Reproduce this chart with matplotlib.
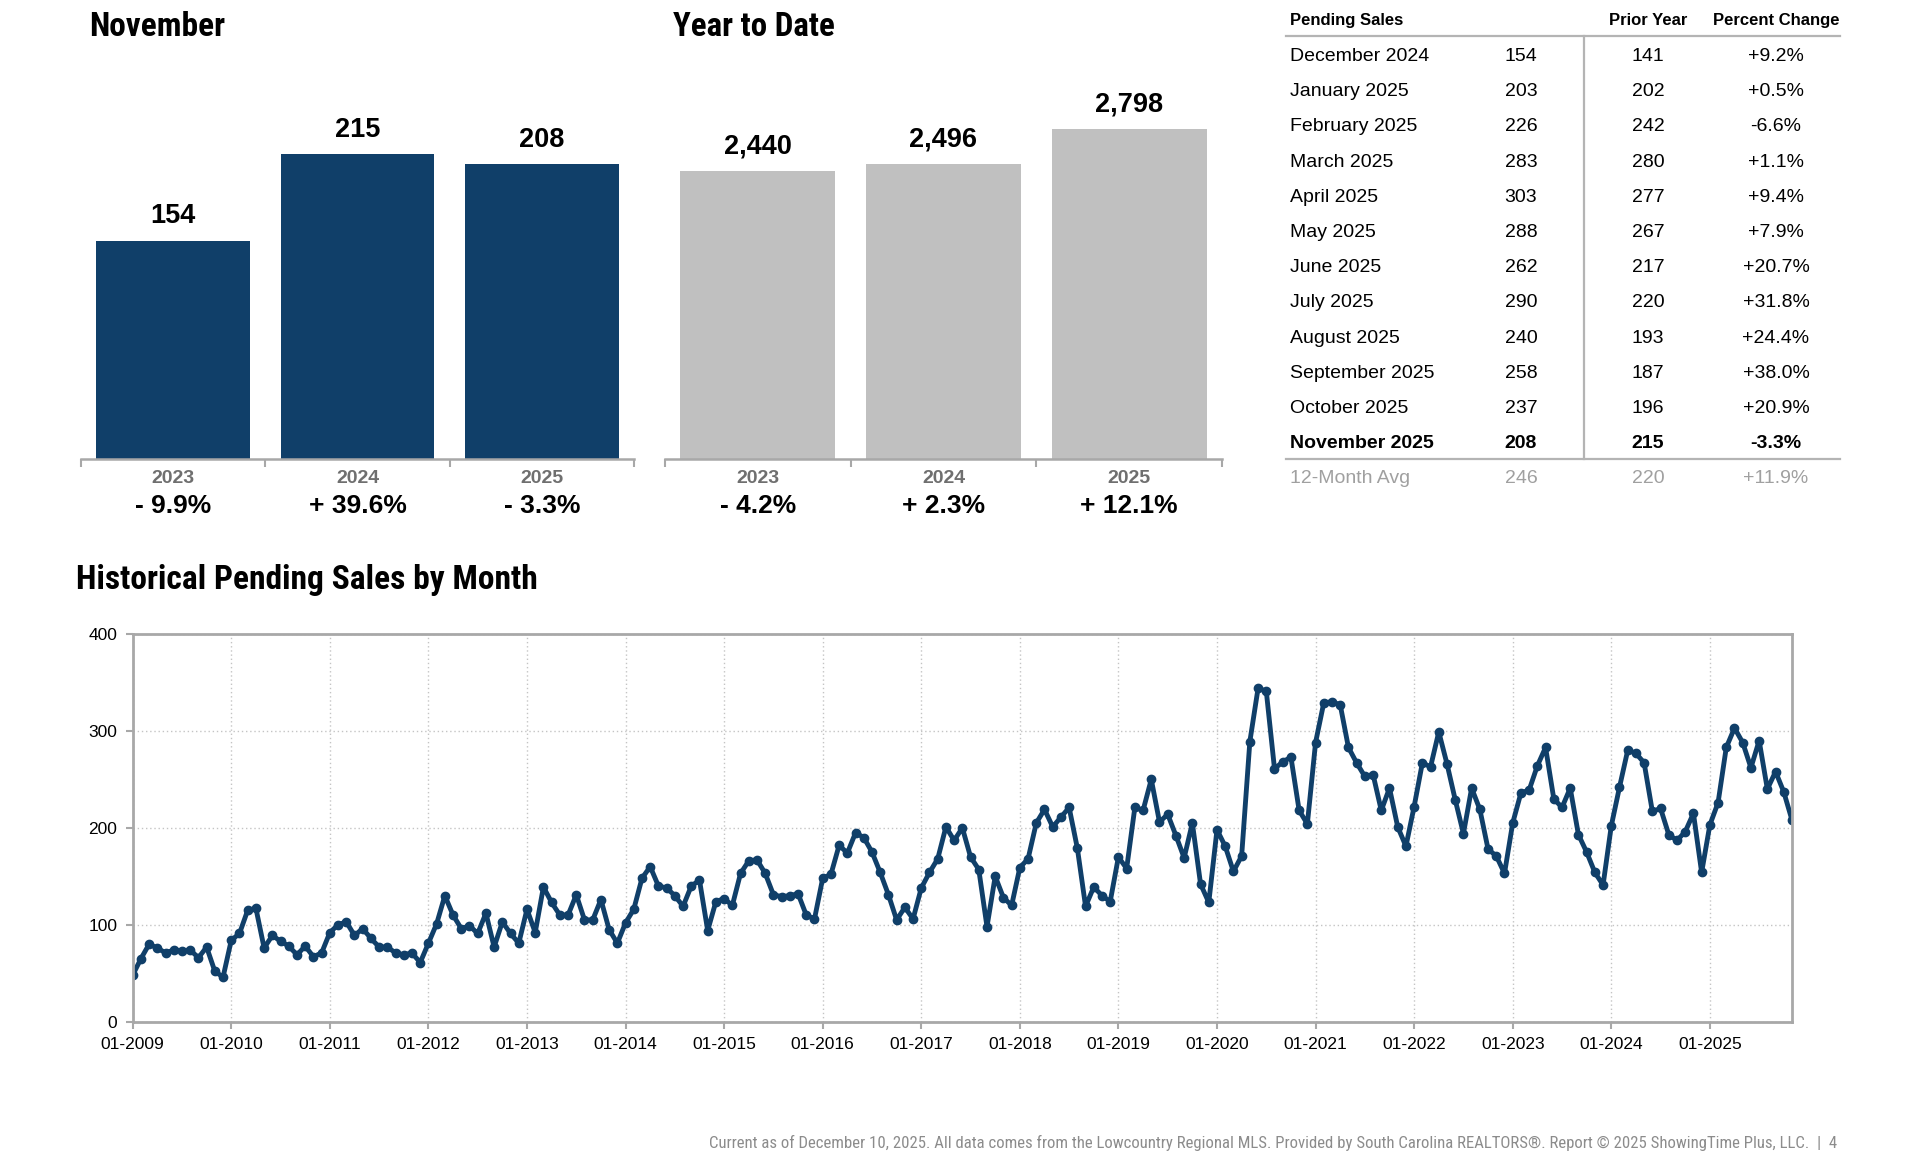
import matplotlib
matplotlib.use("Agg")
import matplotlib.pyplot as plt
import matplotlib.transforms as mtransforms
from matplotlib.lines import Line2D
from matplotlib import font_manager

plt.rcParams['font.family'] = ['Liberation Sans', 'DejaVu Sans']

# ---- data ----
bar_years = ["2023", "2024", "2025"]
nov_values = [154, 215, 208]
nov_change = ["- 9.9%", "+ 39.6%", "- 3.3%"]
ytd_values = [2440, 2496, 2798]
ytd_change = ["- 4.2%", "+ 2.3%", "+ 12.1%"]

table_months = ["December 2024", "January 2025", "February 2025", "March 2025",
                "April 2025", "May 2025", "June 2025", "July 2025", "August 2025",
                "September 2025", "October 2025", "November 2025"]
table_current = [154, 203, 226, 283, 303, 288, 262, 290, 240, 258, 237, 208]
table_prior = [141, 202, 242, 280, 277, 267, 217, 220, 193, 187, 196, 215]
table_pct = ["+9.2%", "+0.5%", "-6.6%", "+1.1%", "+9.4%", "+7.9%", "+20.7%",
             "+31.8%", "+24.4%", "+38.0%", "+20.9%", "-3.3%"]
avg_row = ["12-Month Avg", "246", "220", "+11.9%"]

hist_years = list(range(2009, 2026))
hist_values = [
    48, 65, 80, 76, 71, 74, 73, 74, 66, 77, 52, 46,            # 2009
    84, 91, 115, 117, 76, 89, 83, 78, 69, 78, 67, 71,          # 2010
    92, 100, 103, 89, 96, 86, 77, 77, 71, 69, 71, 61,          # 2011
    81, 101, 130, 110, 96, 99, 91, 112, 77, 103, 91, 81,       # 2012
    116, 92, 139, 123, 110, 110, 131, 105, 105, 126, 95, 81,   # 2013
    102, 116, 148, 160, 140, 138, 130, 119, 140, 146, 94, 124, # 2014
    127, 120, 153, 166, 167, 153, 131, 129, 130, 132, 110, 106,  # 2015
    148, 152, 182, 174, 195, 190, 175, 154, 131, 105, 118, 106,  # 2016
    138, 154, 168, 201, 187, 200, 170, 157, 98, 150, 128, 120,   # 2017
    159, 168, 205, 219, 201, 211, 221, 179, 119, 139, 130, 124,  # 2018
    170, 158, 221, 218, 250, 206, 214, 192, 169, 205, 142, 123,  # 2019
    198, 181, 155, 171, 289, 344, 341, 261, 268, 273, 218, 204,  # 2020
    288, 329, 330, 327, 283, 267, 253, 255, 218, 241, 201, 181,  # 2021
    222, 267, 263, 299, 266, 229, 194, 241, 219, 178, 171, 153,  # 2022
    205, 236, 239, 264, 283, 230, 221, 241, 193, 175, 154, 141,  # 2023
    202, 242, 280, 277, 267, 217, 220, 193, 187, 196, 215, 154,  # 2024
    203, 226, 283, 303, 288, 262, 290, 240, 258, 237, 208,       # 2025
]

NAVY = "#103f69"
GRAY_BAR = "#c0c0c0"
AXIS_GRAY = "#a8a8a8"
W, H = 1920, 1158


def fx(x):
    return x / W


def fy(y):
    return 1 - y / H


def narrow_font(bold):
    # look for an installed condensed / narrow face, else plain Liberation Sans
    prefs = ["Roboto Condensed", "Liberation Sans Narrow", "Open Sans Condensed",
             "DejaVu Sans Condensed", "Noto Sans", "DejaVu Sans", "Roboto", "Open Sans"]
    found = {}
    for f in font_manager.fontManager.ttflist:
        narrow = ("Condensed" in f.name or "Narrow" in f.name
                  or f.stretch in ("condensed", "semi-condensed", "extra-condensed"))
        if not narrow or f.style != "normal":
            continue
        w = f.weight if isinstance(f.weight, int) else (700 if "bold" in str(f.weight) else 400)
        if (w >= 600) != bold:
            continue
        key = f.name
        if "Condensed" not in key and "Narrow" not in key:
            key = key + " Condensed"
        found.setdefault(key, f.fname)
    for p in prefs:
        for k, fn in found.items():
            if k.startswith(p):
                return font_manager.FontProperties(fname=fn), True
    return font_manager.FontProperties(family="Liberation Sans",
                                       weight="bold" if bold else "normal"), False


title_fp, title_narrow = narrow_font(True)
foot_fp, foot_narrow = narrow_font(False)

fig = plt.figure(figsize=(19.2, 11.58), dpi=100)
renderer = fig.canvas.get_renderer()


def fit_text(t, target_px, narrow):
    # scale a text so its width is close to the reference width
    size = t.get_fontsize()
    w = t.get_window_extent(renderer).width
    ratio = target_px / w
    if not narrow:
        ratio = ratio ** 0.5
    t.set_fontsize(size * ratio)


def bar_panel(x0, x1, title, values, labels, changes, color, ymax, fmt, title_w):
    ax = fig.add_axes([fx(x0), fy(459), fx(x1) - fx(x0), fy(60) - fy(459)])
    pos = list(range(len(values)))
    ax.bar(pos, values, width=0.835, color=color)
    ax.set_xlim(-0.5, len(values) - 0.5)
    ax.set_ylim(0, ymax)
    for s in ["top", "right", "left"]:
        ax.spines[s].set_visible(False)
    ax.spines["bottom"].set_color(AXIS_GRAY)
    ax.spines["bottom"].set_linewidth(1.8)
    ax.set_yticks([])
    ax.set_xticks([p - 0.5 for p in pos] + [len(values) - 0.5])
    ax.set_xticklabels([])
    ax.tick_params(axis="x", length=6, width=1.5, color=AXIS_GRAY, direction="out")
    for p, v in zip(pos, values):
        ax.annotate(fmt.format(v), (p, v), xytext=(0, 12.5), textcoords="offset points",
                    ha="center", va="baseline", fontsize=19.5, fontweight="bold")
    tr = mtransforms.blended_transform_factory(ax.transData, fig.transFigure)
    for p, lab, ch in zip(pos, labels, changes):
        ax.text(p, fy(478.5), lab, transform=tr, ha="center", va="center",
                fontsize=14, fontweight="bold", color="#6f6f6f")
        ax.text(p, fy(506.5), ch, transform=tr, ha="center", va="center",
                fontsize=19, fontweight="bold")
    t = fig.text(fx(x0 + 8), fy(27), title, ha="left", va="center",
                 fontproperties=title_fp, fontsize=26)
    fit_text(t, title_w, title_narrow)
    return ax


bar_panel(81, 634, "November", nov_values, bar_years, nov_change, NAVY, 281.6, "{:d}", 136)
bar_panel(665, 1222, "Year to Date", ytd_values, bar_years, ytd_change, GRAY_BAR, 3378,
          "{:,}", 162)

# ---- table ----
tx_label, tx_cur, tx_prior, tx_pct = 1290, 1521, 1648, 1776
fig.text(fx(tx_label), fy(20.5), "Pending Sales", fontsize=12, fontweight="bold",
         ha="left", va="center")
fig.text(fx(tx_prior), fy(20.5), "Prior Year", fontsize=12, fontweight="bold",
         ha="center", va="center")
fig.text(fx(tx_pct), fy(20.5), "Percent Change", fontsize=12, fontweight="bold",
         ha="center", va="center")
line_kw = dict(color="#b4b4b4", linewidth=1.6, transform=fig.transFigure)
fig.add_artist(Line2D([fx(1286), fx(1840)], [fy(36), fy(36)], **line_kw))
fig.add_artist(Line2D([fx(1286), fx(1840)], [fy(459), fy(459)], **line_kw))
fig.add_artist(Line2D([fx(1584), fx(1584)], [fy(36), fy(459)], **line_kw))
for i, (m, c, p, pc) in enumerate(zip(table_months, table_current, table_prior, table_pct)):
    y = fy(56.5 + 35.2 * i)
    wt = "bold" if i == len(table_months) - 1 else "normal"
    fig.text(fx(tx_label), y, m, fontsize=14, fontweight=wt, ha="left", va="center")
    fig.text(fx(tx_cur), y, str(c), fontsize=14, fontweight=wt, ha="center", va="center")
    fig.text(fx(tx_prior), y, str(p), fontsize=14, fontweight=wt, ha="center", va="center")
    fig.text(fx(tx_pct), y, pc, fontsize=14, fontweight=wt, ha="center", va="center")
ya = fy(478.5)
fig.text(fx(tx_label), ya, avg_row[0], fontsize=14, color="#a0a0a0", ha="left", va="center")
fig.text(fx(tx_cur), ya, avg_row[1], fontsize=14, color="#a0a0a0", ha="center", va="center")
fig.text(fx(tx_prior), ya, avg_row[2], fontsize=14, color="#a0a0a0", ha="center", va="center")
fig.text(fx(tx_pct), ya, avg_row[3], fontsize=14, color="#a0a0a0", ha="center", va="center")

# ---- historical line chart ----
t = fig.text(fx(76), fy(580), "Historical Pending Sales by Month", ha="left", va="center",
             fontproperties=title_fp, fontsize=26)
fit_text(t, 462, title_narrow)
ax = fig.add_axes([fx(132.7), fy(1021.7), fx(1792) - fx(132.7), fy(634) - fy(1021.7)])
months = list(range(len(hist_values)))
ax.plot(months, hist_values, color=NAVY, linewidth=3.5, marker="o", markersize=6,
        solid_joinstyle="round")
ax.set_xlim(0, len(hist_values) - 1)
ax.set_ylim(0, 400)
ax.set_yticks([0, 100, 200, 300, 400])
ax.set_xticks([12 * i for i in range(len(hist_years))])
ax.set_xticklabels(["01-{}".format(y) for y in hist_years])
ax.grid(True, linestyle=(0, (1, 2)), color="#c4c4c4", linewidth=1)
ax.set_axisbelow(True)
for s in ax.spines.values():
    s.set_color(AXIS_GRAY)
    s.set_linewidth(2)
ax.tick_params(length=5, width=1.5, color=AXIS_GRAY, labelsize=12.5, pad=6)

t = fig.text(fx(1837), fy(1143),
             "Current as of December 10, 2025. All data comes from the Lowcountry Regional MLS. "
             "Provided by South Carolina REALTORS\u00ae. Report \u00a9 2025 ShowingTime Plus, LLC.  |  4",
             ha="right", va="center", fontproperties=foot_fp, fontsize=11, color="#8c8c8c")
fit_text(t, 1127, True)

fig.savefig("out.png", dpi=100)
